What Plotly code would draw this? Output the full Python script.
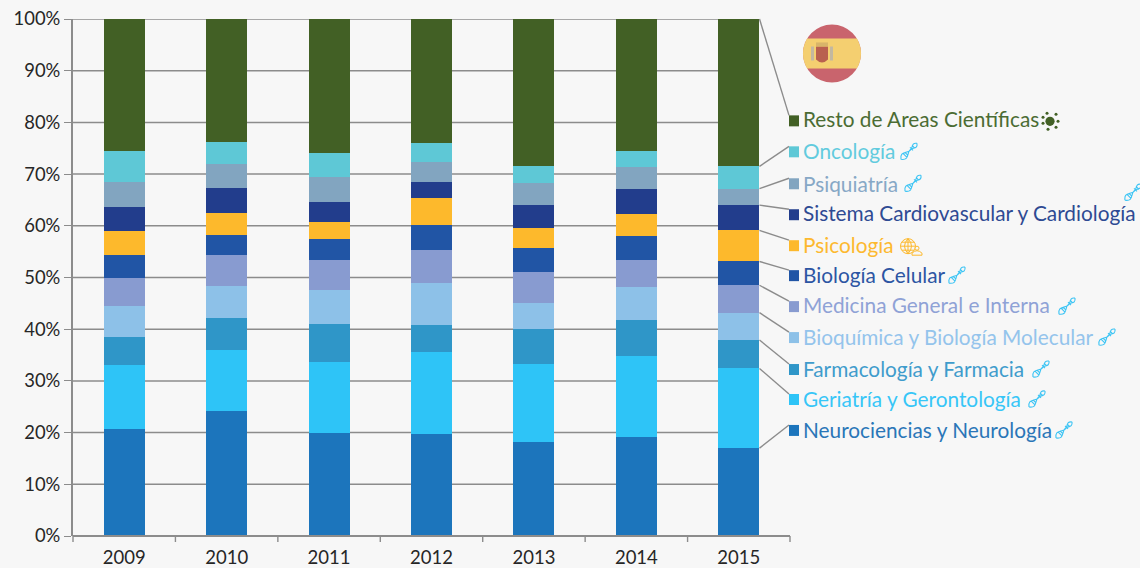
import math
import plotly.graph_objects as go

years = ["2009", "2010", "2011", "2012", "2013", "2014", "2015"]
neuro = [20.7, 24.2, 20.0, 19.7, 18.1, 19.2, 17.0]
geri = [12.3, 11.8, 13.7, 15.8, 15.2, 15.7, 15.4]
farma = [5.5, 6.1, 7.3, 5.4, 6.7, 6.9, 5.5]
bioq = [5.9, 6.3, 6.5, 8.1, 5.0, 6.4, 5.3]
medi = [5.6, 6.0, 5.9, 6.4, 6.0, 5.2, 5.3]
celu = [4.4, 3.8, 4.1, 4.8, 4.7, 4.6, 4.6]
psico = [4.5, 4.2, 3.2, 5.1, 3.9, 4.2, 6.0]
cardio = [4.7, 5.0, 3.9, 3.1, 4.4, 5.0, 4.9]
psiq = [4.9, 4.5, 4.8, 3.9, 4.3, 4.1, 3.2]
onco = [5.9, 4.3, 4.7, 3.7, 3.3, 3.2, 4.3]
resto = [25.6, 23.8, 25.9, 24.0, 28.4, 25.5, 28.5]

names = ["Neurociencias y Neurología", "Geriatría y Gerontología", "Farmacología y Farmacia",
         "Bioquímica y Biología Molecular", "Medicina General e Interna", "Biología Celular",
         "Psicología", "Sistema Cardiovascular y Cardiología", "Psiquiatría", "Oncología",
         "Resto de Areas Científicas"]
values = [neuro, geri, farma, bioq, medi, celu, psico, cardio, psiq, onco, resto]
colors = ["#1c75bc", "#2ec4f7", "#2f96c8", "#8dc1e8", "#889bd0", "#2155a5",
          "#fdb92c", "#223d8c", "#82a5c0", "#5ec8d6", "#426025"]
text_colors = ["#2a76b8", "#37c6f7", "#3f9ccc", "#94c4ec", "#8fa2d6", "#2c55a3",
               "#fdb92f", "#2e4a93", "#87a8c6", "#62cbde", "#4b6c33"]
y_ticks = list(range(0, 101, 10))
y_tick_labels = [f"{t}%" for t in y_ticks]

key_y_px = [430.5, 399.5, 369.5, 337.5, 306.5, 275.5, 245.5, 214.5, 183.5, 151.5, 120.5]
text_y_px = [430, 399, 368, 336, 304, 274, 244, 212, 183, 150, 118]
icon_x_px = [1064, 1037, 1041, 1107, 1067, 957, 910, 1133, 913, 909, 1050]
icon_y_px = [430, 399, 369, 337, 306, 275, 247, 192, 183, 151, 121]

W, H = 1140, 568
L, R, T, B = 73, 790, 18.5, 536.2
GRAY = "#8c8c8c"
fx = lambda p: (p - L) / (R - L)
fy = lambda p: (B - p) / (B - T)


def pix(ax, ay, **kw):
    """shape anchored at a paper point, sized in pixels"""
    return dict(xref="paper", yref="paper", xsizemode="pixel", ysizemode="pixel",
                xanchor=ax, yanchor=ay, layer="above", **kw)


def dot(ax, ay, cx, cy, r, **kw):
    return pix(ax, ay, type="circle", x0=cx - r, x1=cx + r, y0=cy - r, y1=cy + r, **kw)


def arc(r, a0, a1, n=24):
    return [(r * math.cos(math.radians(a0 + (a1 - a0) * i / n)),
             r * math.sin(math.radians(a0 + (a1 - a0) * i / n))) for i in range(n + 1)]


def poly(pts):
    return "M" + " L".join(f"{x:.2f},{y:.2f}" for x, y in pts) + " Z"


fig = go.Figure()
for n, v, c in zip(names, values, colors):
    fig.add_bar(x=years, y=v, name=n, marker=dict(color=c, line_width=0), showlegend=False)

shapes, annots = [], []

# gridlines stop at the last bar, as in the reference
for t in y_ticks[1:]:
    shapes.append(dict(type="line", xref="paper", yref="y", x0=0, x1=fx(745), y0=t, y1=t,
                       line=dict(color=GRAY, width=1.5), layer="below"))

cum = 0.0
last_x = fx(759.5)
for n, v, c, tc, ky, ty, ix, iy in zip(names, values, colors, text_colors, key_y_px, text_y_px, icon_x_px, icon_y_px):
    cum += v[-1]
    shapes.append(dict(type="line", xref="paper", yref="paper", x0=last_x, x1=fx(789),
                       y0=min(cum, 100) / 100, y1=fy(ky - 5.5),
                       line=dict(color=GRAY, width=1.4), layer="above"))
    shapes.append(dict(type="rect", xref="paper", yref="paper", x0=fx(789), x1=fx(799),
                       y0=fy(ky + 5.5), y1=fy(ky - 5.5), fillcolor=c, line_width=0, layer="above"))
    annots.append(dict(text=n, xref="paper", yref="paper", x=fx(800.5), y=fy(ty), xanchor="left",
                       yanchor="middle", showarrow=False, font=dict(size=20.8, color=tc)))
    ax, ay = fx(ix), fy(iy)
    if n.startswith("Resto"):
        shapes.append(dot(ax, ay, 0, 0, 4.6, fillcolor="#426025", line_width=0))
        for dx_, dy_ in [(-7, 4), (-7, -2), (-3, 8), (-2, -8), (6, -6), (6, 7), (8, 0)]:
            shapes.append(dot(ax, ay, dx_, dy_, 1.5, fillcolor="#426025", line_width=0))
    elif n == "Psicología":
        line = dict(color="#fdb92c", width=1)
        shapes.append(dot(ax, ay, -2, 1, 7.5, line=line))
        shapes.append(pix(ax, ay, type="path", line=line,
                          path="M-9.5,1 L5.5,1 M-2,8.5 L-2,-6.5 M-2,8.5 Q-9,1 -2,-6.5 M-2,8.5 Q5,1 -2,-6.5 "
                               "M-8,5 L4,5 M-8,-3 L4,-3"))
        shapes.append(dot(ax, ay, 7, -1, 2, line=line, fillcolor="#f7f7f7"))
        shapes.append(pix(ax, ay, type="path", line=line, fillcolor="#f7f7f7",
                          path="M2,-8 L12,-8 L12,-6 Q7,-1 2,-6 Z"))
    else:
        shapes.append(pix(ax, ay, type="path", line=dict(color="#3cc4f4", width=1.1),
                          path="M-8,-8 C-9,-1 -5,-2 0,0 C5,2 1,9 8,8 M-8,-8 C-1,-9 -2,-5 0,0 C2,5 9,1 8,8 "
                               "M-6,-2 L-2,-6 M-4,-1 L-1,-4 M1,4 L4,1 M3,6 L6,3"))

# Spanish flag badge
fa, fb = fx(832), fy(53)
r, s = 29, 15
ang = math.degrees(math.asin(s / r))
shapes.append(dot(fa, fb, 0, 0, r, fillcolor="#c9646d", line_width=0))
shapes.append(pix(fa, fb, type="path", fillcolor="#f4cf70", line_width=0,
                  path=poly(arc(r, -ang, ang) + arc(r, 180 - ang, 180 + ang))))
shapes.append(pix(fa, fb, type="path", fillcolor="#b9604f", line_width=0,
                  path="M-16,7 L-4,7 L-4,-6 Q-10,-12 -16,-6 Z"))
shapes.append(pix(fa, fb, type="path", fillcolor="#d8b56a", line_width=0,
                  path="M-16,11 L-4,11 L-4,7 L-16,7 Z"))
shapes.append(pix(fa, fb, type="path", fillcolor="#c3b8a0", line_width=0,
                  path="M-21,7 L-18,7 L-18,-7 L-21,-7 Z M-2,7 L1,7 L1,-7 L-2,-7 Z"))

# baseline with category separators
shapes.append(dict(type="line", xref="paper", yref="paper", x0=0, x1=1, y0=0, y1=0,
                   line=dict(color=GRAY, width=2), layer="above"))
for i in range(len(years) + 1):
    shapes.append(dict(type="line", xref="paper", yref="paper", x0=i / len(years), x1=i / len(years),
                       y0=0, y1=-6 / (B - T), line=dict(color=GRAY, width=1.4), layer="above"))

fig.update_layout(
    barmode="stack", bargap=0.6, width=W, height=H,
    paper_bgcolor="#f7f7f7", plot_bgcolor="#f7f7f7",
    margin=dict(l=L, r=W - R, t=T, b=H - B, pad=0),
    font=dict(family="Lato, Carlito, sans-serif", color="#262626", size=19),
    shapes=shapes, annotations=annots, showlegend=False,
    xaxis=dict(type="category", showgrid=False, zeroline=False, ticks="", showline=False,
               tickfont=dict(size=18.5), automargin=False, ticklabelstandoff=8),
    yaxis=dict(range=[0, 100], tickmode="array", tickvals=y_ticks, ticktext=y_tick_labels,
               showgrid=False, zeroline=False, automargin=False,
               showline=True, linecolor=GRAY, linewidth=2, ticks="outside",
               tickcolor=GRAY, ticklen=7, tickwidth=1.4, tickfont=dict(size=18.4)),
)

fig.write_html("out.html", config=dict(displayModeBar=False),
               post_script="document.body.style.margin='0';document.body.style.background='#f7f7f7';")
